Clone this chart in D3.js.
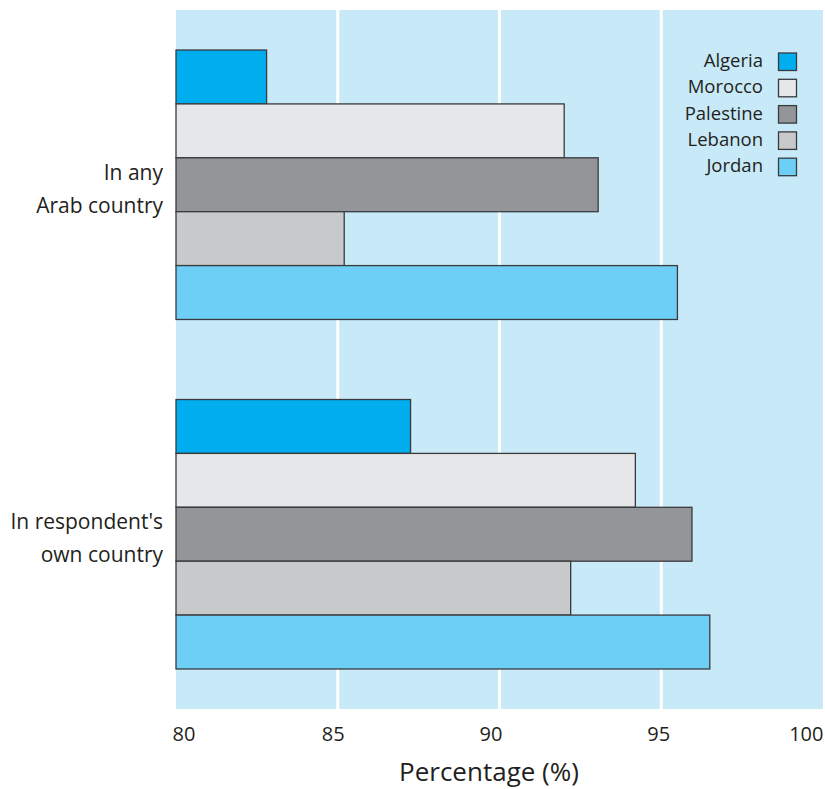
<!DOCTYPE html>
<html><head><meta charset="utf-8">
<script src="https://cdn.jsdelivr.net/npm/d3@7"></script>
<style>body{margin:0;background:#fff}svg{display:block}</style>
</head><body>
<svg id="c" width="825" height="789"></svg>
<script>
const groups = ["In any Arab country", "In respondent's own country"];
const groupLines = [["In any", "Arab country"], ["In respondent's", "own country"]];
const countries = ["Algeria", "Morocco", "Palestine", "Lebanon", "Jordan"];
const colors = ["#00aeef", "#e6e7e9", "#939598", "#c8c9cb", "#6dcff6"];
const algeria = [82.8, 87.25];
const morocco = [92.0, 94.2];
const palestine = [93.05, 95.95];
const lebanon = [85.2, 92.2];
const jordan = [95.5, 96.5];
const xTicks = [80, 85, 90, 95, 100];
const seriesValues = [algeria, morocco, palestine, lebanon, jordan];

const svg = d3.select("#c");
const font = "'Open Sans', 'Noto Sans', sans-serif";
const ink = "#231f20";
const pLeft = 176, pRight = 823, pTop = 10, pBottom = 709;
const x = d3.scaleLinear().domain([80, 100]).range([pLeft, pRight]);
const y = d3.scaleBand().domain(groups).range([pTop, pBottom]).paddingInner(0.229).paddingOuter(0.1145);
const yi = d3.scaleBand().domain(countries).range([0, y.bandwidth()]);

svg.append("rect").attr("x", pLeft).attr("y", pTop).attr("width", pRight - pLeft).attr("height", pBottom - pTop).attr("fill", "#c7e9f8");
svg.append("g").selectAll("line").data(xTicks.slice(1, -1)).join("line")
  .attr("x1", d => x(d)).attr("x2", d => x(d)).attr("y1", pTop).attr("y2", pBottom)
  .attr("stroke", "#fff").attr("stroke-width", 3);

const g = svg.append("g").selectAll("g").data(groups).join("g")
  .attr("transform", d => `translate(0,${y(d)})`);
g.selectAll("rect").data((d, gi) => countries.map((c, ci) => ({c, ci, v: seriesValues[ci][gi]}))).join("rect")
  .attr("x", x(80)).attr("y", d => yi(d.c)).attr("width", d => x(d.v) - x(80)).attr("height", yi.bandwidth())
  .attr("fill", d => colors[d.ci]).attr("stroke", "#3a3a3c").attr("stroke-width", 1.3);

// y labels
groups.forEach((gname, gi) => {
  const cy = y(gname) + y.bandwidth() / 2;
  const lines = groupLines[gi];
  lines.forEach((ln, li) => {
    svg.append("text").attr("x", 163).attr("y", cy - 5 + li * 33)
      .attr("text-anchor", "end").attr("font-family", font).attr("font-size", 21).attr("fill", ink).text(ln);
  });
});

// x axis
const xAxis = d3.axisBottom(x).tickValues(xTicks).tickSize(0).tickPadding(0);
const ax = svg.append("g").attr("transform", `translate(0,${pBottom})`).call(xAxis);
ax.select(".domain").remove();
const tickShift = {80: -4, 85: -5, 90: -9, 95: -3, 100: 0};
ax.selectAll(".tick text").attr("font-family", font).attr("font-size", 20).attr("fill", ink)
  .attr("dy", 0).attr("y", 32).attr("x", d => tickShift[d])
  .attr("text-anchor", d => d === 80 ? "start" : d === 100 ? "end" : "middle");
svg.append("text").attr("x", 489).attr("y", 781).attr("text-anchor", "middle")
  .attr("font-family", font).attr("font-size", 26).attr("fill", ink).text("Percentage (%)");

// legend
const lg = svg.append("g").selectAll("g").data(countries).join("g")
  .attr("transform", (d, i) => `translate(0,${53 + i * 26.3})`);
lg.append("text").attr("x", 763).attr("y", 14).attr("text-anchor", "end")
  .attr("font-family", font).attr("font-size", 18.5).attr("fill", ink).text(d => d);
lg.append("rect").attr("x", 778.5).attr("y", 0).attr("width", 18).attr("height", 17.5)
  .attr("fill", (d, i) => colors[i]).attr("stroke", "#3a3a3c").attr("stroke-width", 1.3);
</script>
</body></html>
